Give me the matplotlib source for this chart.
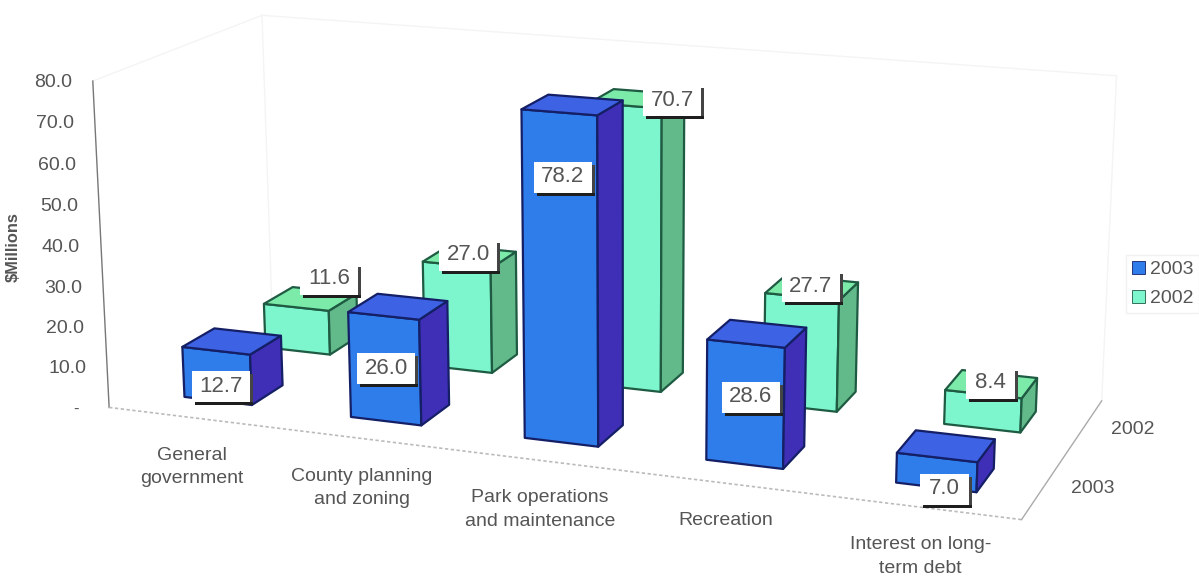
import numpy as np
import matplotlib
matplotlib.use("Agg")
import matplotlib.pyplot as plt
from matplotlib.patches import Polygon, Rectangle, Patch

plt.rcParams['font.family'] = ['Liberation Sans', 'DejaVu Sans']

# ---------- data ----------
categories = ["General\ngovernment", "County planning\nand zoning",
              "Park operations\nand maintenance", "Recreation",
              "Interest on long-\nterm debt"]
series_names = ["2003", "2002"]
values_2003 = [12.7, 26.0, 78.2, 28.6, 7.0]
values_2002 = [11.6, 27.0, 70.7, 27.7, 8.4]
value_ticks = [10, 20, 30, 40, 50, 60, 70, 80]

# ---------- layout ----------
GAP_X, GAP_Y = 0.295, 0.31
INK = '#555555'
STYLE = {
    "2003": dict(front='#2E7DEB', top='#3D62E4', side='#3F2FB6', edge='#141F66'),
    "2002": dict(front='#7DF5CD', top='#7CEBA9', side='#62B98A', edge='#1E5B42'),
}
# label box centres in figure pixels, per series
LABEL_XY = {"2003": [(221, 386), (386, 368), (563, 177), (751, 397), (944, 489)],
            "2002": [(329, 279), (468, 255), (672, 100), (811, 286), (990, 383)]}

# Camera calibration: (x, y, z) in chart units -> picture pixel
def corner(i, j, back, right, z):
    return (i + (1 - GAP_X if right else GAP_X), j + (1 - GAP_Y if back else GAP_Y), z)

CAL = [((0, 0, 0), (108, 407)), ((5, 0, 0), (1022, 520)), ((5, 2, 0), (1102, 400)),
       ((0, 0, 80), (93, 80)), ((0, 2, 80), (262, 15)), ((5, 2, 80), (1115, 75))]
# (category, depth row, value, FL top, FR top, BR top, BL top, FL bottom, FR bottom, BR bottom)
OBS = [
 (0, 0, 12.7, (183, 348), (250, 353), (281, 335), (215, 328), (185, 398), (252, 405), (283, 382)),
 (1, 0, 26.0, (349, 315), (418, 319), (447, 301), (378, 293), (351, 416), (420, 425), (449, 403)),
 (2, 0, 78.2, (521, 110), (596, 115), (622, 102), (547, 95), (526, 438), (597, 447), (624, 425)),
 (3, 0, 28.6, (708, 340), (783, 348), (806, 328), (732, 320), (707, 459), (783, 469), (805, 445)),
 (4, 0, 7.0, (897, 455), (977, 463), (995, 438), (917, 430), (897, 483), None, (993, 467)),
 (0, 1, 11.6, (264, 305), (328, 310), (357, 298), (293, 286), (266, 348), (328, 355), None),
 (1, 1, 27.0, (423, 263), (489, 273), (516, 252), None, None, (490, 373), (517, 353)),
 (2, 1, 70.7, (600, 97), (660, 108), (683, 95), (612, 89), None, (660, 392), (683, 372)),
 (3, 1, 27.7, (766, 293), (838, 307), (858, 282), None, None, (836, 412), (856, 390)),
 (4, 1, 8.4, (945, 390), (1020, 400), (1037, 377), (963, 368), (945, 423), (1020, 433), (1037, 413)),
]
for i, j, val, flt, frt, brt, blt, flb, frb, brb in OBS:
    keys = [(0, 0, val, flt), (0, 1, val, frt), (1, 1, val, brt), (1, 0, val, blt),
            (0, 0, 0, flb), (0, 1, 0, frb), (1, 1, 0, brb)]
    for back, right, z, uv in keys:
        if uv is not None:
            CAL.append((corner(i, j, back, right, z), uv))

A, B = [], []
for (x, y, z), (u, v) in CAL:
    A.append([x, y, z, 1, 0, 0, 0, 0, -u * x, -u * y, -u * z]); B.append(u)
    A.append([0, 0, 0, 0, x, y, z, 1, -v * x, -v * y, -v * z]); B.append(v)
p = np.linalg.lstsq(np.array(A, float), np.array(B, float), rcond=None)[0]
P = np.append(p, 1).reshape(3, 4)

def project(x, y, z):
    q = P @ np.array([x, y, z, 1.0])
    return q[0] / q[2], q[1] / q[2]

# ---------- figure ----------
fig = plt.figure(figsize=(11.99, 5.78), dpi=100)
ax = fig.add_axes([0, 0, 1, 1])
ax.set_xlim(0, 1199)
ax.set_ylim(578, 0)
ax.axis('off')

def seg(a, b, **kw):
    pa, pb = project(*a), project(*b)
    ax.plot([pa[0], pb[0]], [pa[1], pb[1]], **kw)

# chart walls
for a, b in [((0, 0, 80), (0, 2, 80)), ((0, 2, 80), (5, 2, 80)), ((5, 2, 80), (5, 2, 0)),
             ((0, 2, 80), (0, 2, 0))]:
    seg(a, b, color='#F4F4F4', lw=1, zorder=1)
seg((0, 0, 0), (0, 0, 80), color='#777777', lw=1, zorder=2)
seg((0, 0, 0), (5, 0, 0), color='#BBBBBB', lw=1.2, ls=(0, (2, 1.5)), zorder=2)
seg((5, 0, 0), (5, 2, 0), color='#AAAAAA', lw=1, zorder=2)

# bars: back row first
def bar(i, j, val, st, z):
    lo_x, hi_x = i + GAP_X, i + 1 - GAP_X
    lo_y, hi_y = j + GAP_Y, j + 1 - GAP_Y
    faces = [
        ([(lo_x, lo_y, 0), (hi_x, lo_y, 0), (hi_x, lo_y, val), (lo_x, lo_y, val)], st['front']),
        ([(hi_x, lo_y, 0), (hi_x, hi_y, 0), (hi_x, hi_y, val), (hi_x, lo_y, val)], st['side']),
        ([(lo_x, lo_y, val), (hi_x, lo_y, val), (hi_x, hi_y, val), (lo_x, hi_y, val)], st['top']),
    ]
    for pts, col in faces:
        ax.add_patch(Polygon([project(*q) for q in pts], closed=True, facecolor=col,
                             edgecolor=st['edge'], lw=1.6, joinstyle='round', zorder=z))

for i, val in enumerate(values_2002):
    bar(i, 1, val, STYLE["2002"], 3)
for i, val in enumerate(values_2003):
    bar(i, 0, val, STYLE["2003"], 4)

# value labels
def label(xy, val):
    txt = f"{val:.1f}"
    w, h = (58 if val >= 10 else 49), 31
    cx, cy = xy
    ax.add_patch(Rectangle((cx - w / 2 + 3, cy - h / 2 + 3), w, h, facecolor='#444444', edgecolor='none', zorder=6))
    ax.add_patch(Rectangle((cx - w / 2 + 3, cy + h / 2), w, 3, facecolor='#1E1E1E', edgecolor='none', zorder=6))
    ax.add_patch(Rectangle((cx - w / 2, cy - h / 2), w, h, facecolor='white', edgecolor='none', zorder=7))
    ax.text(cx, cy, txt, ha='center', va='center', fontsize=16, color=INK, zorder=8)

for xy, val in zip(LABEL_XY["2003"], values_2003):
    label(xy, val)
for xy, val in zip(LABEL_XY["2002"], values_2002):
    label(xy, val)

# value axis
for t in value_ticks:
    u, v = project(0, 0, t)
    ax.text(u - 21, v + 1, f"{t:.1f}", ha='right', va='center', fontsize=14, color=INK)
u, v = project(0, 0, 0)
ax.text(u - 33, v + 2, "-", ha='center', va='center', fontsize=12, color=INK)
ax.text(13, 247, "$Millions", rotation=90, ha='center', va='center', fontsize=11.8,
        fontweight='bold', color=INK, parse_math=False)

# category axis
for i, name in enumerate(categories):
    u, v = project(i + 0.5, 0, 0)
    ax.text(u, v + 29, name, ha='center', va='top', fontsize=14, color=INK,
            linespacing=1.5, multialignment='center')

# depth axis
for j, name in enumerate(series_names):
    u, v = project(5, j + 0.5, 0)
    ax.text(u + 49, v + 1, name, ha='center', va='center', fontsize=14, color=INK)

# legend
handles = [Patch(facecolor=STYLE[s]['front'], edgecolor=STYLE[s]['edge'], lw=0.6, label=s) for s in series_names]
leg = ax.legend(handles=handles, loc='upper left', bbox_to_anchor=(1126, 255), bbox_transform=ax.transData,
                frameon=True, fancybox=False, edgecolor='#EEEEEE', fontsize=14, labelcolor=INK,
                handlelength=0.67, handleheight=0.67, handletextpad=0.26, labelspacing=0.6,
                borderpad=0.3, borderaxespad=0)

fig.savefig("out.png", dpi=100)
